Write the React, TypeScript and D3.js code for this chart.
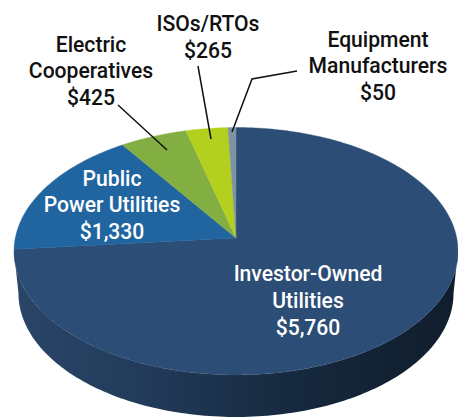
import React from "react";
import * as d3 from "d3";

const W = 458, H = 417;
const categories = ["Investor-Owned Utilities", "Public Power Utilities", "Electric Cooperatives", "ISOs/RTOs", "Equipment Manufacturers"];
const values = [5760, 1330, 425, 265, 50];
const sliceColors = ["#2c4d75", "#20659f", "#83ae42", "#b3d01e", "#7d93a3"];

const labelLines = [
  { fill: "#fff", x: 308, lines: ["Investor-Owned", "Utilities", "$5,760"], y: [281, 308, 335] },
  { fill: "#fff", x: 112, lines: ["Public", "Power Utilities", "$1,330"], y: [186, 212, 239] },
  { fill: "#111", x: 91, lines: ["Electric", "Cooperatives", "$425"], y: [52, 78, 105] },
  { fill: "#111", x: 208, lines: ["ISOs/RTOs", "$265"], y: [31, 58] },
  { fill: "#111", x: 378, lines: ["Equipment", "Manufacturers", "$50"], y: [47, 73, 100] },
];
const leaders: [number, number][][] = [
  [[118, 105], [167, 150]],
  [[198, 66], [211, 139]],
  [[297, 71], [252, 79], [232, 132]],
];

// perspective disc projection
const cx = 236, cy = 238, k = -0.107, a = 122.3, b = 220.7, depth = 42, bottomScale = 0.98;
const project = (t: number): [number, number] => {
  const x = Math.sin(t), y = -Math.cos(t), d = 1 + k * y;
  return [cx + (b * x) / d, cy + (a * y) / d];
};
const arcPoints = (t0: number, t1: number) => {
  const n = Math.max(2, Math.ceil(Math.abs(t1 - t0) / 0.02));
  return d3.range(n + 1).map((i) => project(t0 + ((t1 - t0) * i) / n));
};
const line = d3.line();
const pie = d3.pie<number>().sort(null).value((v) => v);
const arcs = pie(values);
const tau = Math.PI * 2;

// side wall: the near rim between its widest points, pushed down
const widest = Math.acos(k);
const rimFront = arcPoints(widest, tau - widest);
const wallBottom = rimFront
  .map(([x, y]): [number, number] => [cx + (x - cx) * bottomScale, y + depth])
  .reverse();
const wallPath = line([...rimFront, ...wallBottom]) + "Z";

export default function App() {
  return (
    <svg width={W} height={H} viewBox={`0 0 ${W} ${H}`} style={{ position: "absolute", left: 0, top: 0, background: "#fff" }}>
      <defs>
        <linearGradient id="wall" x1="0" x2="1" y1="0" y2="0">
          <stop offset="0" stopColor="#2a4568" />
          <stop offset="0.3" stopColor="#223b5a" />
          <stop offset="0.6" stopColor="#172a40" />
          <stop offset="1" stopColor="#101d2b" />
        </linearGradient>
      </defs>
      <path d={wallPath} fill="url(#wall)" />
      {arcs.map((s, i) => (
        <path key={categories[i]} d={line([[cx, cy], ...arcPoints(s.startAngle, Math.min(s.endAngle, tau))]) + "Z"} fill={sliceColors[i]} stroke={sliceColors[i]} strokeWidth={0.4} />
      ))}
      {leaders.map((pts, i) => (
        <path key={i} d={line(pts) ?? ""} fill="none" stroke="#111" strokeWidth={1.5} />
      ))}
      {labelLines.map((l) =>
        l.lines.map((t, j) => (
          <text key={t} textAnchor="middle" fill={l.fill}
            transform={`translate(${l.x},${l.y[j]}) scale(0.96,1)`}
            style={{ fontFamily: "Roboto,sans-serif", fontSize: 22, fontWeight: 500 }}>
            {t}
          </text>
        ))
      )}
    </svg>
  );
}
